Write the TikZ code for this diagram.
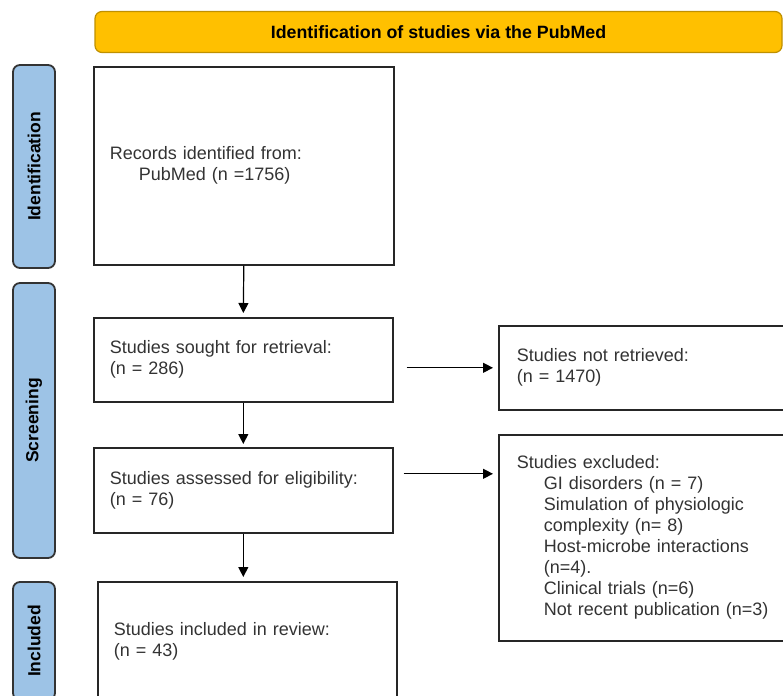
\documentclass[tikz,border=0pt]{standalone}
\usepackage{fontspec}
\setmainfont{Liberation Sans}
\usepackage{tikz}
\usetikzlibrary{arrows.meta,calc}
\usepackage{xcolor}
\definecolor{tabblue}{HTML}{9DC3E6}
\definecolor{bannerfill}{HTML}{FFC000}
\definecolor{bannerline}{HTML}{BF9000}
\definecolor{txt}{HTML}{333333}

\begin{document}
\begin{tikzpicture}[x=1pt,y=-1pt,
  box/.style={draw=black!85, line width=1.6pt, text=txt, align=left, anchor=north west, inner xsep=16pt, font=\fontsize{18}{21}\selectfont},
  phase/.style={draw=black!80, line width=1.8pt, fill=tabblue, rounded corners=7pt, rotate=90, minimum height=42pt, font=\fontsize{17.5}{20}\selectfont\bfseries},
  arr/.style={line width=1.2pt, -{Triangle[length=10pt,width=10pt]}}]
\useasboundingbox (0,0) rectangle (783,695);
\clip (0,0) rectangle (783,695);
\node [draw=bannerline, line width=1.2pt, fill=bannerfill, rounded corners=7pt, minimum width=687pt, minimum height=41pt, font=\fontsize{17.8}{20}\selectfont\bfseries] (banner) at (438.5,32) {Identification of studies via the PubMed};
\node [phase, minimum width=203pt] (idtab) at (34,166.5) {Identification};
\node [phase, minimum width=275pt] (sctab) at (34,420.5) {Screening};
\node [phase, minimum width=118pt] (intab) at (34,641) {Included};
\node [box, text width=268pt, minimum height=198pt] (records) at (93,66) {Records identified from:\\\hspace*{29pt}PubMed (n =1756)};
\node [box, text width=267pt, minimum height=84pt] (sought) at (93,317) {Studies sought for retrieval:\\(n = 286)};
\node [box, text width=267pt, minimum height=85pt] (assessed) at (93,447) {Studies assessed for eligibility:\\(n = 76)};
\node [box, text width=267pt, minimum height=119pt] (included) at (97,581) {Studies included in review:\\(n = 43)};
\node [box, inner xsep=18pt, text width=274pt, minimum height=84pt] (notret) at (498,325) {Studies not retrieved:\\(n = 1470)};
\node [box, inner xsep=18pt, text width=274pt, minimum height=206pt] (excluded) at (498,434) {Studies excluded:\\
\hspace*{27pt}GI disorders (n = 7)\\
\hspace*{27pt}Simulation of physiologic\\
\hspace*{27pt}complexity (n= 8)\\
\hspace*{27pt}Host-microbe interactions\\
\hspace*{27pt}(n=4).\\
\hspace*{27pt}Clinical trials (n=6)\\
\hspace*{27pt}Not recent publication (n=3)};
\draw [arr, shorten >=4pt] (records.south) -- (sought.north);
\draw [arr, shorten >=3pt] (sought.south) -- (assessed.north);
\draw [arr, shorten >=4pt] (assessed.south) -- (assessed.south |- included.north);
\draw [arr, shorten <=13pt, shorten >=5pt] (sought.east |- notret.west) -- (notret.west);
\coordinate (ex) at ([yshift=16.5pt]assessed.east);
\draw [arr, shorten <=10pt, shorten >=5pt] (ex) -- (ex -| excluded.west);
\end{tikzpicture}
\end{document}
